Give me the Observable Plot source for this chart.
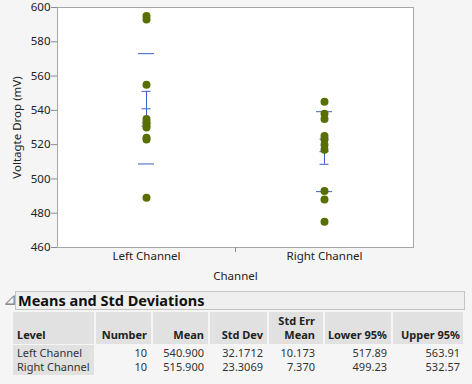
<!DOCTYPE html>
<html><head><meta charset="utf-8">
<script src="https://cdn.jsdelivr.net/npm/d3@7"></script>
<script src="https://cdn.jsdelivr.net/npm/@observablehq/plot@0.6"></script>
<style>
html,body{margin:0;padding:0;background:#f5f5f5;}
body{width:472px;height:384px;overflow:hidden;font-family:"Noto Sans",sans-serif;color:#222;}
#chart svg{display:block}
#report{position:relative;height:96px;}
.abs{position:absolute;white-space:nowrap;box-sizing:border-box;}
</style></head><body>
<div id="chart"></div>
<div id="report"></div>
<script>
// ---- data ----
const channels = ["Left Channel", "Right Channel"];
const leftValues = [595, 593, 555, 535, 533, 532, 530, 524, 523, 489];
const rightValues = [545, 538, 535, 525, 523, 520, 517, 493, 488, 475];
const yTicks = [460, 480, 500, 520, 540, 560, 580, 600];
const counts = [10, 10];
const means = [540.900, 515.900];
const stdDevs = [32.1712, 23.3069];
const stdErrs = [10.173, 7.370];
const lower95 = [517.89, 499.23];
const upper95 = [563.91, 532.57];
const tableTitle = "Means and Std Deviations";
const headers = ["Level", "Number", "Mean", "Std Dev", "Std Err\nMean", "Lower 95%", "Upper 95%"];

// ---- chart ----
const W = 472, H = 288, mL = 57, mR = 59, mT = 7, mB = 41;
const step = (W - mL - mR) / channels.length;
const blue = "#3d61c9", olive = "#586f00";
const seriesValues = [leftValues, rightValues];
const points = channels.flatMap((c, i) => seriesValues[i].map(v => ({channel: c, value: v})));
const stats = channels.map((c, i) => ({channel: c, mean: means[i], sd: stdDevs[i], se: stdErrs[i]}));

const plot = Plot.plot({
  width: W, height: H,
  marginLeft: mL, marginRight: mR, marginTop: mT, marginBottom: mB,
  style: {background: "transparent", fontFamily: "Noto Sans", fontSize: "11.5px", color: "#222", overflow: "visible"},
  x: {type: "band", domain: channels, padding: 0},
  y: {domain: [460, 600]},
  marks: [
    Plot.frame({fill: "white", stroke: "#a6a6a6"}),
    Plot.axisY({ticks: yTicks, tickSize: 6, tickPadding: 1, stroke: "#8c8c8c", fill: "#222",
      label: "Voltagte Drop (mV)", labelAnchor: "center", labelArrow: "none", labelOffset: 45}),
    Plot.axisX({tickSize: 0, tickPadding: 4, fill: "#222",
      label: "Channel", labelAnchor: "center", labelArrow: "none", labelOffset: 32}),
    Plot.axisX({ticks: channels.slice(1), tickSize: 5, tickFormat: () => "", stroke: "#8c8c8c", dx: -step / 2, label: null}),
    Plot.tickY(stats, {x: "channel", y: d => d.mean + d.sd, stroke: blue, inset: 81}),
    Plot.tickY(stats, {x: "channel", y: d => d.mean - d.sd, stroke: blue, inset: 81}),
    Plot.ruleX(stats, {x: "channel", y1: d => d.mean - d.se, y2: d => d.mean + d.se, stroke: blue}),
    Plot.tickY(stats, {x: "channel", y: d => d.mean + d.se, stroke: blue, inset: 84.5}),
    Plot.tickY(stats, {x: "channel", y: d => d.mean - d.se, stroke: blue, inset: 84.5}),
    Plot.tickY(stats, {x: "channel", y: "mean", stroke: blue, inset: 84.5}),
    Plot.dot(points, {x: "channel", y: "value", r: 4, fill: olive})
  ]
});
document.getElementById("chart").appendChild(plot);

// ---- report table ----
const rep = document.getElementById("report");
function el(css, text) {
  const d = document.createElement("div");
  d.className = "abs";
  Object.assign(d.style, css);
  if (text != null) d.textContent = text;
  rep.appendChild(d);
  return d;
}
el({left: "3px", top: "1px", fontSize: "17px", lineHeight: "20px", color: "#8a8a8a", fontFamily: "DejaVu Sans"}, "⊿");
el({left: "15px", top: "3px", width: "450px", height: "19px", border: "1px solid #c4c4c4", background: "#efefef",
    fontWeight: "700", fontSize: "14.5px", lineHeight: "17px", paddingLeft: "2px", color: "#111"}, tableTitle);

const cols = [
  {x: 13, w: 81, align: "left", pad: 4},
  {x: 96, w: 55, align: "right", pad: 4},
  {x: 153, w: 55, align: "right", pad: 4},
  {x: 210, w: 57, align: "right", pad: 4},
  {x: 269, w: 54, align: "right", pad: 8},
  {x: 325, w: 66, align: "right", pad: 4},
  {x: 393, w: 70, align: "right", pad: 3}
];
const gray = "#e1e1e1";
cols.forEach((c, j) => {
  const h = el({left: c.x + "px", top: "23.7px", width: c.w + "px", height: "32.3px", background: gray,
    fontWeight: "700", fontSize: "11px", lineHeight: "14.5px", textAlign: c.align,
    display: "flex", flexDirection: "column", justifyContent: "flex-end",
    paddingBottom: "1px", paddingLeft: c.align === "left" ? c.pad + "px" : "0", paddingRight: c.align === "right" ? c.pad + "px" : "0"});
  headers[j].split("\n").forEach(t => { const s = document.createElement("div"); s.textContent = t; h.appendChild(s); });
});
el({left: "13px", top: "57px", width: "81px", height: "30px", background: gray});
const rows = channels.map((c, i) => [c, String(counts[i]), means[i].toFixed(3), stdDevs[i].toFixed(4),
  stdErrs[i].toFixed(3), lower95[i].toFixed(2), upper95[i].toFixed(2)]);
rows.forEach((r, i) => {
  cols.forEach((c, j) => {
    el({left: c.x + "px", top: (57.6 + i * 14.7) + "px", width: c.w + "px", height: "14.7px",
      fontSize: "11px", lineHeight: "14.7px", textAlign: c.align, color: "#333",
      paddingLeft: c.align === "left" ? c.pad + "px" : "0", paddingRight: c.align === "right" ? c.pad + "px" : "0"}, r[j]);
  });
});
</script>
</body></html>
